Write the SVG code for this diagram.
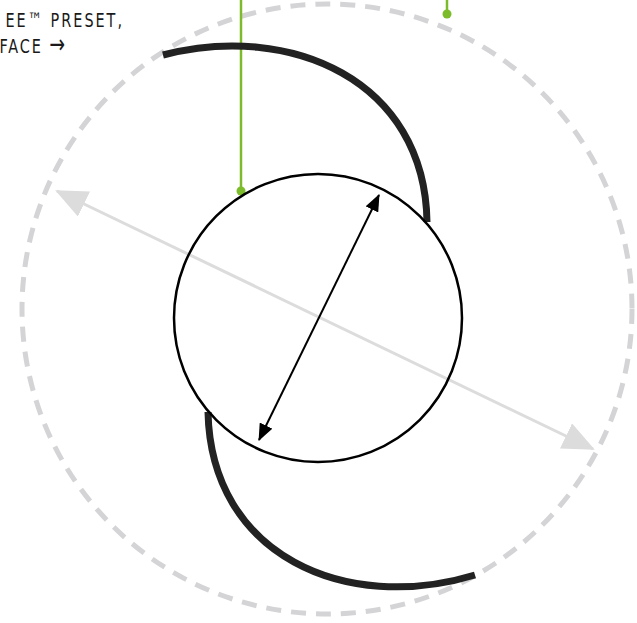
<svg xmlns="http://www.w3.org/2000/svg" width="637" height="623" viewBox="0 0 637 623">
<style>
.lbl{font-family:"DejaVu Sans Condensed","DejaVu Sans",sans-serif;font-size:20px;fill:#1a1a1a;letter-spacing:2.5px}
.arc{fill:none;stroke:#222;stroke-width:7}
.green{stroke:#7cbc2a;stroke-width:2.5;fill:none}
.dot{fill:#7cbc2a}
</style>
<defs>
<marker id="ga" markerUnits="userSpaceOnUse" markerWidth="32" markerHeight="28" viewBox="0 0 32 28" refX="30" refY="14" orient="auto-start-reverse">
<path d="M0,0 L32,14 L0,28 Z" fill="#dcdcdc"/>
</marker>
<marker id="ba" markerUnits="userSpaceOnUse" markerWidth="17" markerHeight="14" viewBox="0 0 17 14" refX="16" refY="7" orient="auto-start-reverse">
<path d="M0,0 L17,7 L0,14 Z" fill="#000"/>
</marker>
</defs>
<rect width="637" height="623" fill="#fff"/>
<g id="outer-ring">
<circle cx="327" cy="309" r="305" fill="none" stroke="#d4d4d7" stroke-width="5" stroke-dasharray="15 10"/>
</g>
<g id="connectors">
<line x1="57" y1="191" x2="593" y2="449" stroke="#dcdcdc" stroke-width="3" marker-start="url(#ga)" marker-end="url(#ga)"/>
<line x1="379" y1="195" x2="259" y2="440" stroke="#000" stroke-width="2" marker-start="url(#ba)" marker-end="url(#ba)"/>
<line class="green" x1="241" y1="0" x2="241" y2="191"/>
<circle class="dot" cx="241" cy="191" r="4.5"/>
<line class="green" x1="447" y1="0" x2="447" y2="14"/>
<circle class="dot" cx="447" cy="14" r="4.5"/>
</g>
<g id="top-arc">
<path class="arc" d="M163,55 C290,22 425,80 427,222"/>
</g>
<g id="bottom-arc">
<path class="arc" d="M208,412 C211,556 346,614 475,575"/>
</g>
<g id="inner-circle">
<circle cx="318" cy="318" r="144" fill="none" stroke="#000" stroke-width="2.5"/>
</g>
<g id="label" transform="scale(0.8,1)">
<text class="lbl" x="155" y="27" text-anchor="end">EE™ PRESET,</text>
<text class="lbl" x="84" y="53" text-anchor="end">FACE <tspan font-size="26">→</tspan></text>
</g>
</svg>
